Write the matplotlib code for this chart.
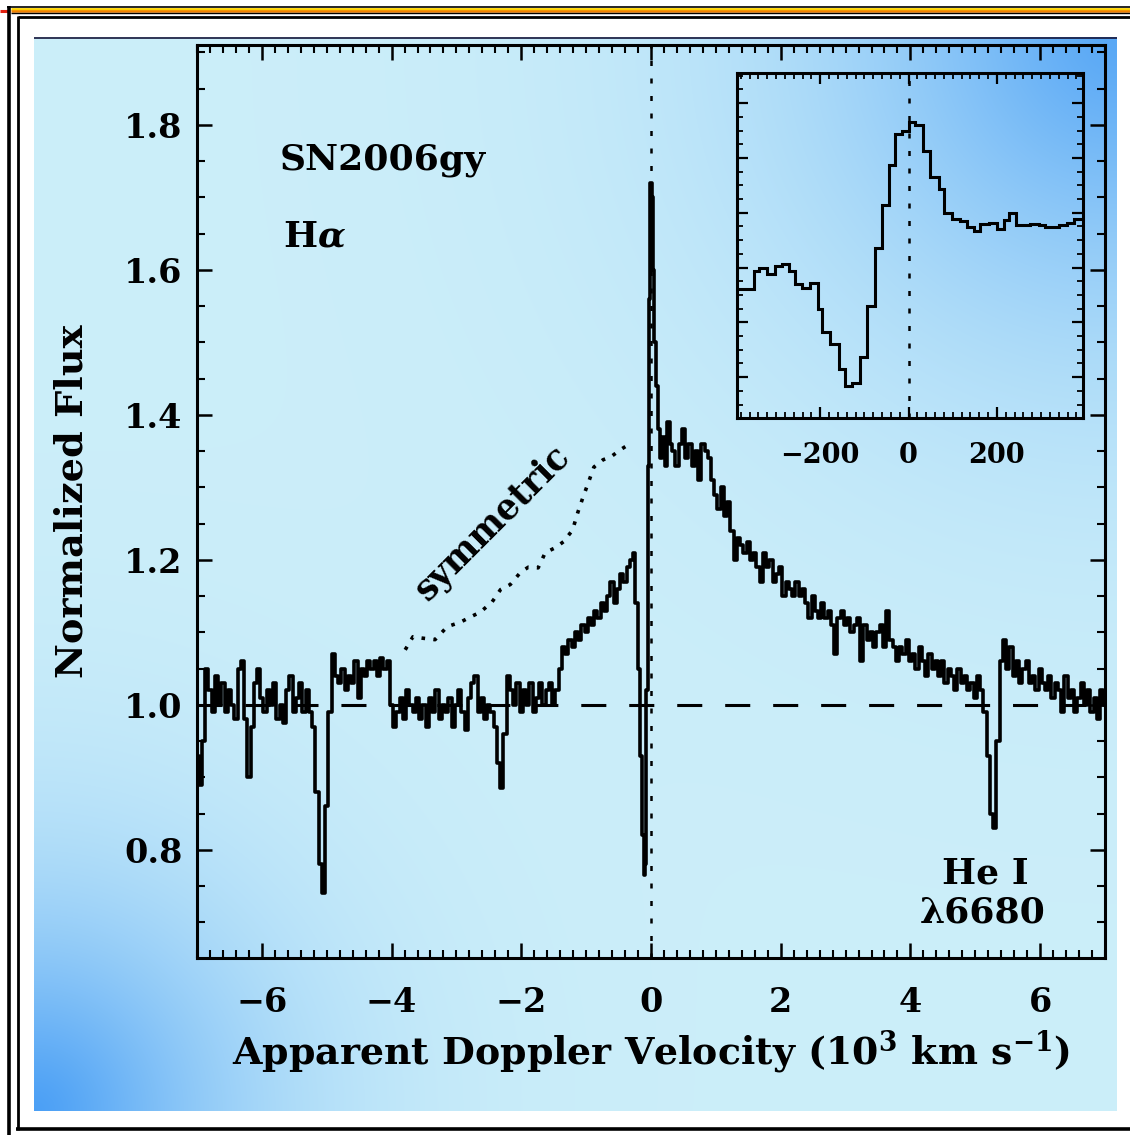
import matplotlib
matplotlib.use("Agg")
import matplotlib.pyplot as plt
import numpy as np
from matplotlib.lines import Line2D
from matplotlib.ticker import MultipleLocator, FixedLocator, FormatStrFormatter, NullFormatter

W, H = 1130, 1135

# H-alpha profile of SN2006gy, velocities in 10^3 km/s
# blue side, 0.05 sampling from -7.00 to -0.35
flux_blue = [
    0.93, 0.89, 0.95, 1.05, 1.02, 0.99, 1.04, 1.00, 1.03, 0.99,
    1.02, 1.00, 0.98, 1.05, 1.06, 0.98, 0.90, 0.97, 1.03, 1.05,
    1.01, 0.99, 1.02, 1.00, 1.03, 0.98, 1.00, 0.975, 1.02, 1.04,
    0.99, 1.01, 1.03, 0.99, 1.02, 0.99, 0.97, 0.88, 0.78, 0.74,
    0.86, 0.99, 1.07, 1.04, 1.03, 1.05, 1.02, 1.04, 1.03, 1.06,
    1.01, 1.05, 1.04, 1.06, 1.05, 1.06, 1.04, 1.065, 1.05, 1.06,
    1.00, 0.97, 0.99, 1.01, 0.98, 1.02, 1.00, 0.99, 1.01, 0.98,
    1.00, 0.97, 1.01, 0.99, 1.02, 0.98, 1.00, 0.99, 1.01, 0.97,
    1.00, 1.02, 0.99, 0.965, 1.01, 1.03, 1.04, 0.99, 1.01, 0.98,
    1.00, 0.99, 0.97, 0.92, 0.885, 0.96, 1.04, 1.02, 1.00, 1.03,
    0.99, 1.02, 1.00, 1.03, 0.99, 1.01, 1.03, 1.00, 1.02, 1.03,
    1.00, 1.02, 1.05, 1.08, 1.07, 1.09, 1.08, 1.10, 1.09, 1.11,
    1.10, 1.12, 1.11, 1.13, 1.12, 1.14, 1.13, 1.15, 1.17, 1.14,
    1.16, 1.18, 1.17, 1.19,
]

# narrow core, finer sampling
vel_core = [-0.30, -0.26, -0.22, -0.19, -0.16, -0.13, -0.10, -0.08, -0.06, -0.04, -0.02,
            0.00, 0.02, 0.04, 0.06, 0.09, 0.12, 0.15, 0.19, 0.23, 0.27, 0.31]
flux_core = [1.20, 1.21, 1.14, 1.05, 0.93, 0.82, 0.765, 0.78, 1.02, 1.33, 1.56,
             1.72, 1.70, 1.60, 1.50, 1.44, 1.38, 1.34, 1.37, 1.33, 1.39, 1.36]

# red wing, 0.05 sampling from 0.35 to 7.00
flux_red = [
    1.35, 1.33, 1.36, 1.38, 1.34, 1.36, 1.33, 1.35, 1.31, 1.36,
    1.35, 1.34, 1.31, 1.29, 1.27, 1.30, 1.26, 1.28, 1.24, 1.20,
    1.23, 1.22, 1.21, 1.225, 1.20, 1.21, 1.19, 1.17, 1.21, 1.19,
    1.20, 1.17, 1.18, 1.19, 1.15, 1.17, 1.16, 1.15, 1.17, 1.15,
    1.16, 1.14, 1.12, 1.15, 1.13, 1.12, 1.14, 1.12, 1.13, 1.11,
    1.07, 1.12, 1.13, 1.11, 1.12, 1.10, 1.11, 1.12, 1.06, 1.11,
    1.09, 1.10, 1.08, 1.10, 1.11, 1.08, 1.13, 1.09, 1.08, 1.06,
    1.08, 1.07, 1.09, 1.06, 1.07, 1.05, 1.08, 1.06, 1.04, 1.07,
    1.05, 1.06, 1.04, 1.06, 1.03, 1.05, 1.04, 1.02, 1.05, 1.03,
    1.04, 1.02, 1.03, 1.01, 1.04, 1.02, 0.99, 0.93, 0.85, 0.83,
    0.95, 1.06, 1.09, 1.05, 1.08, 1.04, 1.06, 1.03, 1.05, 1.06,
    1.03, 1.04, 1.02, 1.05, 1.03, 1.02, 1.04, 1.01, 1.03, 1.02,
    0.99, 1.04, 1.01, 1.02, 0.99, 1.01, 1.03, 1.00, 1.02, 0.99,
    1.01, 0.98, 1.02, 1.00,
]

# red wing reflected onto the blue side
vel_sym = [-3.79, -3.67, -3.52, -3.33, -3.14, -2.94, -2.79, -2.63, -2.45, -2.32,
           -2.17, -2.01, -1.89, -1.74, -1.63, -1.47, -1.35, -1.21, -1.13, -1.05,
           -0.96, -0.88, -0.74, -0.62, -0.47, -0.31]
flux_sym = [1.076, 1.094, 1.092, 1.090, 1.108, 1.114, 1.121, 1.128, 1.142, 1.159,
            1.166, 1.183, 1.190, 1.189, 1.210, 1.217, 1.225, 1.241, 1.265, 1.286,
            1.308, 1.328, 1.338, 1.342, 1.352, 1.361]

# high-resolution view of the narrow component (km/s)
inset_edges = [-388.5, -369.7, -350.9, -339.6, -320.6, -301.8, -286.6, -271.7, -256.5, -241.4,
               -222.5, -206.0, -196.1, -177.3, -158.5, -143.3, -128.2, -109.4, -94.2, -75.4,
               -60.2, -45.3, -30.1, -15.0, 0.0, 15.2, 32.5, 49.1, 67.9, 79.2,
               98.3, 117.0, 132.2, 147.2, 162.3, 181.1, 200.1, 215.1, 226.4, 243.8,
               260.4, 275.5, 294.3, 309.5, 339.6, 358.6, 373.6, 395.0]
inset_flux = [1.121, 1.121, 1.188, 1.200, 1.176, 1.206, 1.212, 1.188, 1.140, 1.127,
              1.145, 1.049, 0.964, 0.921, 0.830, 0.766, 0.778, 0.875, 1.061, 1.273,
              1.430, 1.573, 1.687, 1.697, 1.730, 1.721, 1.624, 1.530, 1.485, 1.400,
              1.376, 1.370, 1.348, 1.333, 1.360, 1.364, 1.340, 1.372, 1.400, 1.355,
              1.355, 1.360, 1.355, 1.348, 1.355, 1.364, 1.376]
inset_ticks = [-200, 0, 200]

plt.rcParams["font.family"] = "DejaVu Serif"
plt.rcParams["font.weight"] = "bold"
plt.rcParams["axes.labelweight"] = "bold"
plt.rcParams["mathtext.fontset"] = "dejavuserif"
plt.rcParams["mathtext.default"] = "bf"
plt.rcParams["axes.linewidth"] = 2.2


def fx(x):
    return x / W


def fy(y):
    return 1 - y / H


fig = plt.figure(figsize=(W / 100, H / 100), dpi=100)
fig.patch.set_facecolor("white")

# shaded blue panel behind the plot
px0, px1, py0, py1 = 34, 1117, 37, 1111
bg = fig.add_axes([fx(px0), fy(py1), fx(px1 - px0), (py1 - py0) / H], zorder=0)
gx, gy = np.meshgrid(np.arange(px0, px1), np.arange(py0, py1))
base = np.array([0.80, 0.935, 0.98])
deep = np.array([0.27, 0.61, 0.96])
w_bl = 0.95 * np.exp(-(np.hypot(gx - px0, gy - py1) / 200.0) ** 1.4)
w_tr = 0.85 * np.exp(-(np.hypot(gx - px1, gy - py0) / 270.0) ** 1.4)
w = 1 - (1 - w_bl) * (1 - w_tr)
img = base[None, None, :] * (1 - w[..., None]) + deep[None, None, :] * w[..., None]
bg.imshow(img, aspect="auto", interpolation="bilinear")
bg.set_axis_off()

# frame around the whole figure
frame = [
    ((7, 1130), (6.5, 6.5), "black", 1.2),
    ((11, 1130), (8.7, 8.7), "#ffd400", 2.0),
    ((11, 1130), (11.2, 11.2), "#f08000", 1.8),
    ((11, 1130), (13.2, 13.2), "black", 1.0),
    ((0, 8), (10.5, 10.5), "#e02010", 2.2),
    ((9.2, 9.2), (6, 1135), "black", 2.6),
    ((17.5, 1130), (17.4, 17.4), "black", 2.0),
    ((17.5, 17.5), (16, 1130), "black", 2.0),
    ((16, 1130), (1129, 1129), "black", 2.6),
    ((px0, px1), (37.5, 37.5), "#15153a", 1.2),
]
for xs, ys, c, lw in frame:
    fig.add_artist(Line2D([fx(v) for v in xs], [fy(v) for v in ys],
                          transform=fig.transFigure, color=c, lw=lw, solid_capstyle="butt"))

# main spectrum
ax = fig.add_axes([fx(197), fy(958), fx(1105 - 197), (958 - 45) / H], zorder=2)
ax.set_facecolor("none")

vel_blue = np.linspace(-7.0, -0.35, len(flux_blue))
vel_red = np.linspace(0.35, 7.0, len(flux_red))
vel = np.concatenate([vel_blue, vel_core, vel_red])
flux = np.concatenate([flux_blue, flux_core, flux_red])

hl = ax.axhline(1.0, color="black", lw=2.2, zorder=1)
hl.set_dashes([8.2, 7.5])
vl = ax.axvline(0.0, color="black", lw=1.8, zorder=1)
vl.set_dashes([2, 5])
ax.plot(vel, flux, color="black", lw=2.6, drawstyle="steps-mid", zorder=3)
sym, = ax.plot(vel_sym, flux_sym, color="black", lw=2.6, zorder=2)
sym.set_dashes([1.0, 2.3])

ax.set_xlim(-7, 7)
ax.set_ylim(0.651, 1.91)
ax.xaxis.set_major_locator(MultipleLocator(2))
ax.xaxis.set_minor_locator(MultipleLocator(0.2))
ax.yaxis.set_major_locator(MultipleLocator(0.2))
ax.yaxis.set_minor_locator(MultipleLocator(0.05))
ax.yaxis.set_major_formatter(FormatStrFormatter("%.1f"))
ax.tick_params(which="both", direction="in", top=True, right=True)
ax.tick_params(which="major", length=11, width=1.8, labelsize=24)
ax.tick_params(which="minor", length=5.5, width=1.5)
ax.tick_params(axis="x", which="major", pad=20)
ax.tick_params(axis="y", which="major", pad=10.5)

ax.set_xlabel(r"Apparent Doppler Velocity (10$^3$ km s$^{-1}$)", fontsize=27.3, va="center")
ax.xaxis.set_label_coords(0.5, -0.103)
ax.set_ylabel("Normalized Flux", fontsize=27.5, va="center")
ax.yaxis.set_label_coords(-0.1377, 0.5)

ax.text(-5.73, 1.752, "SN2006gy", fontsize=26, ha="left", va="center")
ax.text(-5.68, 1.646, r"H$\boldsymbol{\alpha}$", fontsize=26, ha="left", va="center")
ax.text(5.16, 0.768, "He I", fontsize=26, ha="center", va="center")
ax.text(5.12, 0.714, "λ6680", fontsize=26, ha="center", va="center")
ax.text(-2.44, 1.251, "symmetric", fontsize=25, rotation=45,
        ha="center", va="center", rotation_mode="anchor")

# inset: narrow P Cygni component
ins = fig.add_axes([fx(737), fy(418), fx(1083 - 737), (418 - 73) / H], zorder=3)
ins.set_facecolor("none")
ins.stairs(inset_flux, inset_edges, color="black", lw=2.2, baseline=None)
il = ins.axvline(0.0, color="black", lw=1.8)
il.set_dashes([2, 5])
ins.set_xlim(inset_edges[0], inset_edges[-1])
ins.set_ylim(0.651, 1.91)
ins.xaxis.set_major_locator(FixedLocator(inset_ticks))
ins.xaxis.set_minor_locator(MultipleLocator(20))
ins.yaxis.set_major_locator(MultipleLocator(0.2))
ins.yaxis.set_minor_locator(MultipleLocator(0.05))
ins.yaxis.set_major_formatter(NullFormatter())
ins.tick_params(which="both", direction="in", top=True, right=True)
ins.tick_params(which="major", length=8, width=1.6, labelsize=19.5, pad=17)
ins.tick_params(which="minor", length=4, width=1.3)

fig.savefig("out.png", dpi=100)
